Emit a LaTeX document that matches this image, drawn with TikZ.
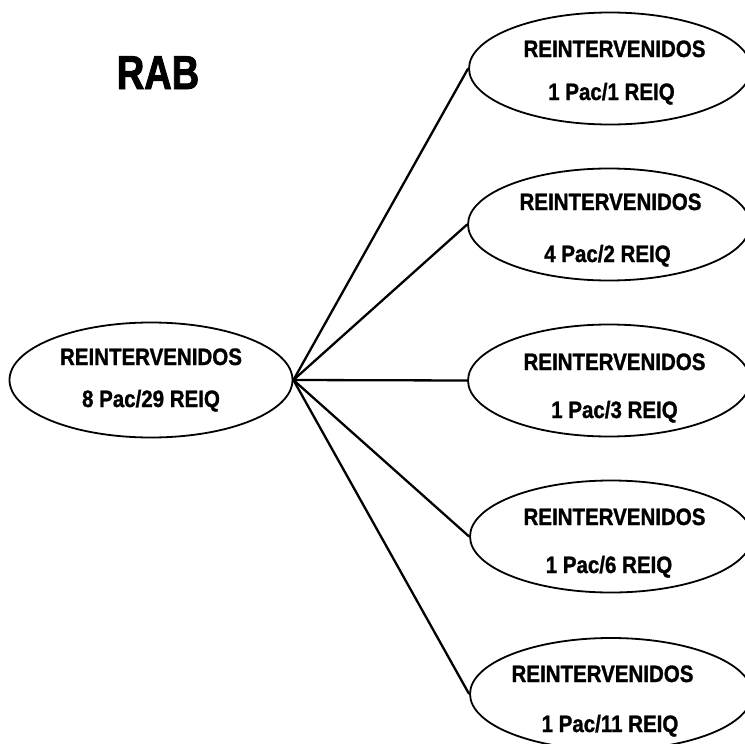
\documentclass[tikz,border=0pt]{standalone}
\usepackage{fontspec}
\usetikzlibrary{shapes.geometric}
\newfontfamily\labfont{Liberation Sans}[FakeStretch=0.865, BoldFeatures={FakeBold=1.2}]
\newfontfamily\titlefont{Liberation Sans}[FakeStretch=0.8, BoldFeatures={FakeBold=2}]
\tikzset{
  oval/.style={draw=black, line width=1.8pt, ellipse, inner sep=0pt,
    minimum width=282pt, minimum height=112pt},
  lbl/.style={anchor=base, inner sep=0pt, font=\labfont\bfseries\fontsize{23.7}{28}\selectfont},
  link/.style={draw=black, line width=2.3pt}
}
\begin{document}
\begin{tikzpicture}[x=1pt, y=-1pt]
  \useasboundingbox (0,0) rectangle (745,744);
  \fill[white] (0,0) rectangle (745,744);

  % title
  \node[anchor=base, inner sep=0pt, font=\titlefont\bfseries\fontsize{47.5}{50}\selectfont]
    (title) at (158,89) {RAB};

  % source group
  \node[oval, minimum width=283pt, minimum height=115pt] (src) at (151,380) {};
  \node[lbl] (src1) at (151,365) {REINTERVENIDOS};
  \node[lbl] (src2) at (151,407) {8 Pac/29 REIQ};

  % target groups
  \node[oval] (g1) at (610,68.5) {};
  \node[lbl] (g1a) at (614.5,57) {REINTERVENIDOS};
  \node[lbl] (g1b) at (611.5,100) {1 Pac/1 REIQ};

  \node[oval] (g2) at (609,224.5) {};
  \node[lbl] (g2a) at (610.5,210) {REINTERVENIDOS};
  \node[lbl] (g2b) at (607.5,262) {4 Pac/2 REIQ};

  \node[oval] (g3) at (609,380.5) {};
  \node[lbl] (g3a) at (614.5,370) {REINTERVENIDOS};
  \node[lbl] (g3b) at (614.5,418) {1 Pac/3 REIQ};

  \node[oval] (g4) at (611,536.5) {};
  \node[lbl] (g4a) at (614.5,525) {REINTERVENIDOS};
  \node[lbl] (g4b) at (609,573) {1 Pac/6 REIQ};

  \node[oval] (g5) at (611,694) {};
  \node[lbl] (g5a) at (602.5,682) {REINTERVENIDOS};
  \node[lbl] (g5b) at (610,732) {1 Pac/11 REIQ};

  % connectors fanning out from the source
  \coordinate (hub) at (src.east);
  \foreach \g in {g1,g2,g3,g4,g5}
    \draw[link] (hub) -- (\g.west);
\end{tikzpicture}
\end{document}
